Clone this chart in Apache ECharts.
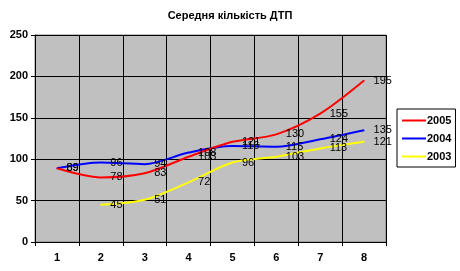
<!DOCTYPE html>
<html><head><meta charset="utf-8">
<script src="https://cdn.jsdelivr.net/npm/echarts@6/dist/echarts.min.js"></script>
<style>html,body{margin:0;padding:0;background:#fff}#c{width:460px;height:271px}</style>
</head><body><div id="c"></div>
<script>
var title = 'Середня кількість ДТП';
var categories = ['1','2','3','4','5','6','7','8'];
var yTicks = [0,50,100,150,200,250];
var s2005 = [89, 78, 83, 103, 121, 130, 155, 195];
var s2004 = [89, 96, 94, 108, 116, 115, 124, 135];
var s2003 = [null, 45, 51, 72, 96, 103, 113, 121];
var names = ['2005','2004','2003'];
var colors = ['#ff0000','#0000ff','#ffff00'];

var font = 'Arial, "Liberation Sans", sans-serif';
function mk(name, data, color){
  return {
    name: name, type: 'line', data: data, smooth: 0.3,
    symbol: 'circle', symbolSize: 1, showSymbol: true,
    connectNulls: false,
    lineStyle: {color: color, width: 2},
    itemStyle: {color: color},
    label: {show: true, position: 'right', distance: 9, color: '#000',
      fontFamily: font, fontSize: 11,
      formatter: function(p){ return p.value==null?'':String(p.value); }},
    emphasis: {disabled: true}
  };
}
var chart = echarts.init(document.getElementById('c'), null, {renderer:'canvas'});
chart.setOption({
  animation: false,
  backgroundColor: '#fff',
  title: {text: title, left: 'center', top: 5,
    textStyle: {fontFamily: font, fontSize: 11, fontWeight: 'bold', color: '#000'}},
  grid: {left: 35, top: 35, right: 74, bottom: 29, show: true,
    backgroundColor: '#c0c0c0', borderColor: '#808080', borderWidth: 1},
  legend: {
    orient: 'vertical', left: 397, top: 109,
    data: names, icon: 'rect', itemWidth: 24, itemHeight: 2, itemGap: 7,
    borderColor: '#000', borderWidth: 1, padding: [6, 4, 5, 5],
    backgroundColor: '#fff',
    textStyle: {fontFamily: font, fontSize: 11, fontWeight: 'bold', color: '#000', padding:[0,0,0,-4]}
  },
  xAxis: {
    type: 'category', data: categories, boundaryGap: true,
    axisLine: {lineStyle: {color: '#000'}},
    axisTick: {show: true, length: 4, lineStyle: {color: '#000'}},
    axisLabel: {fontFamily: font, fontSize: 11, fontWeight: 'bold', color: '#000', margin: 10},
    splitLine: {show: true, lineStyle: {color: '#000', width: 1}}
  },
  yAxis: {
    type: 'value', min: yTicks[0], max: yTicks[yTicks.length-1], interval: 50,
    axisLine: {show: true, lineStyle: {color: '#000'}},
    axisTick: {show: true, length: 4, lineStyle: {color: '#000'}},
    axisLabel: {fontFamily: font, fontSize: 11, fontWeight: 'bold', color: '#000', margin: 7},
    splitLine: {show: true, lineStyle: {color: '#000', width: 1}}
  },
  series: [mk(names[2], s2003, colors[2]), mk(names[1], s2004, colors[1]), mk(names[0], s2005, colors[0])]
});
</script></body></html>
